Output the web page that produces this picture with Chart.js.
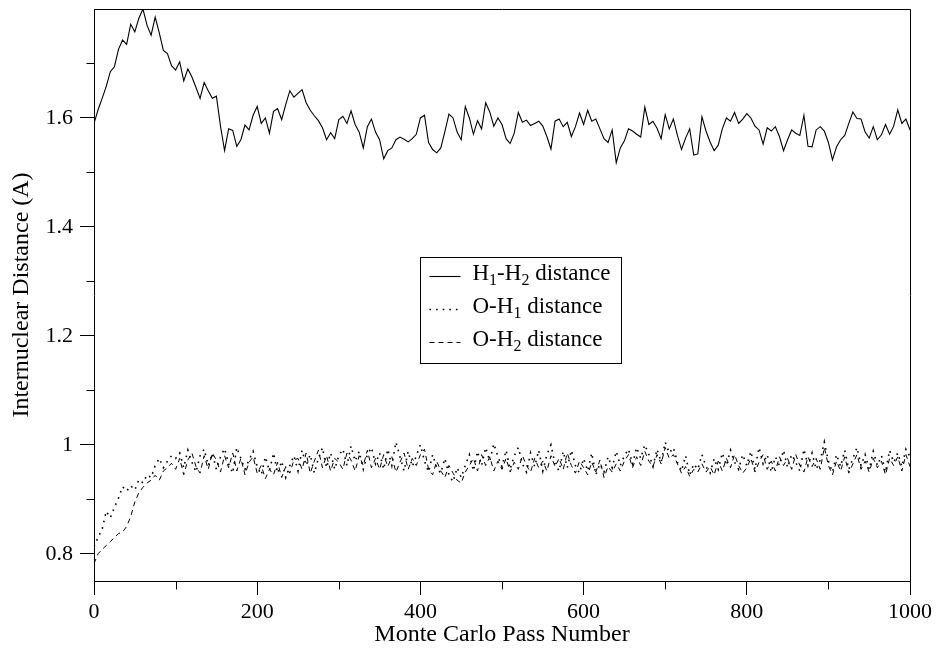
<!doctype html>
<html>

<head>
    <meta charset="UTF-8">
    <script src="https://cdn.jsdelivr.net/npm/chart.js"></script>
    <style>
        html, body { margin: 0; padding: 0; background: #fff; }
        #wrap { width: 940px; height: 654px; }
    </style>
</head>

<body>
    <div id="wrap"><canvas id="mc_graph"></canvas></div>

<script>
    // one sample every 5 Monte Carlo passes, 0 .. 1000
    const h1h2 = [
        1.590, 1.615, 1.636, 1.658, 1.685, 1.694, 1.726, 1.743, 1.735, 1.772,
        1.758, 1.783, 1.800, 1.770, 1.752, 1.785, 1.756, 1.724, 1.718, 1.696,
        1.688, 1.703, 1.668, 1.690, 1.675, 1.656, 1.636, 1.665, 1.650, 1.636,
        1.640, 1.585, 1.540, 1.580, 1.577, 1.548, 1.560, 1.587, 1.578, 1.605,
        1.621, 1.590, 1.600, 1.572, 1.612, 1.617, 1.597, 1.625, 1.650, 1.638,
        1.645, 1.652, 1.628, 1.614, 1.604, 1.595, 1.582, 1.560, 1.573, 1.562,
        1.597, 1.603, 1.590, 1.613, 1.588, 1.574, 1.545, 1.584, 1.598, 1.574,
        1.560, 1.525, 1.540, 1.545, 1.560, 1.565, 1.561, 1.556, 1.562, 1.570,
        1.600, 1.605, 1.555, 1.542, 1.536, 1.545, 1.575, 1.607, 1.600, 1.574,
        1.560, 1.621, 1.600, 1.570, 1.595, 1.580, 1.628, 1.611, 1.585, 1.600,
        1.588, 1.562, 1.553, 1.572, 1.610, 1.592, 1.596, 1.586, 1.590, 1.594,
        1.585, 1.566, 1.543, 1.594, 1.598, 1.584, 1.592, 1.566, 1.584, 1.609,
        1.588, 1.614, 1.594, 1.598, 1.580, 1.562, 1.555, 1.578, 1.518, 1.545,
        1.558, 1.580, 1.576, 1.570, 1.565, 1.620, 1.588, 1.594, 1.581, 1.562,
        1.606, 1.580, 1.598, 1.568, 1.542, 1.563, 1.580, 1.532, 1.534, 1.602,
        1.576, 1.556, 1.540, 1.550, 1.580, 1.600, 1.594, 1.610, 1.590, 1.598,
        1.608, 1.600, 1.585, 1.578, 1.552, 1.582, 1.576, 1.584, 1.566, 1.540,
        1.560, 1.578, 1.572, 1.568, 1.605, 1.548, 1.547, 1.578, 1.584, 1.576,
        1.555, 1.523, 1.547, 1.560, 1.568, 1.590, 1.611, 1.599, 1.598, 1.574,
        1.563, 1.584, 1.560, 1.569, 1.588, 1.570, 1.585, 1.615, 1.590, 1.598,
        1.578
    ];

    const oh1 = [
        0.813, 0.830, 0.845, 0.878, 0.866, 0.885, 0.902, 0.923, 0.915, 0.925,
        0.917, 0.936, 0.930, 0.945, 0.940, 0.962, 0.975, 0.958, 0.970, 0.980,
        0.975, 0.985, 0.958, 0.990, 0.968, 0.950, 0.980, 0.992, 0.962, 0.984,
        0.955, 0.978, 0.993, 0.965, 0.948, 0.995, 0.975, 0.955, 0.972, 0.988,
        0.960, 0.945, 0.978, 0.952, 0.985, 0.948, 0.970, 0.940, 0.962, 0.980,
        0.952, 0.990, 0.962, 0.982, 0.948, 0.975, 0.995, 0.958, 0.985, 0.955,
        0.980, 0.992, 0.962, 0.998, 0.970, 0.988, 0.955, 0.982, 0.995, 0.965,
        0.985, 0.955, 0.992, 0.962, 1.005, 0.978, 0.952, 0.988, 0.960, 0.980,
        1.000, 0.970, 0.950, 0.982, 0.958, 0.948, 0.975, 0.945, 0.932, 0.958,
        0.940, 0.962, 0.982, 0.952, 0.988, 0.962, 0.995, 0.970, 1.002, 0.978,
        0.960, 0.990, 0.955, 0.980, 0.995, 0.965, 0.950, 0.985, 0.960, 0.990,
        0.952, 0.982, 1.000, 0.965, 0.952, 0.988, 0.958, 0.990, 0.962, 0.948,
        0.975, 0.952, 0.985, 0.945, 0.965, 0.950, 0.978, 0.958, 0.988, 0.962,
        0.980, 0.992, 0.965, 0.995, 0.975, 1.000, 0.982, 0.960, 0.992, 0.968,
        1.005, 0.985, 0.995, 0.968, 0.952, 0.980, 0.945, 0.965, 0.955, 0.982,
        0.960, 0.948, 0.975, 0.955, 0.985, 0.962, 0.990, 0.968, 0.955, 0.982,
        0.962, 0.988, 0.955, 0.995, 0.965, 0.982, 0.950, 0.978, 0.962, 0.990,
        0.958, 0.982, 0.968, 0.952, 0.992, 0.962, 0.985, 0.955, 0.972, 1.005,
        0.970, 0.950, 0.982, 0.960, 0.990, 0.955, 0.975, 0.995, 0.962, 0.982,
        0.955, 0.988, 0.962, 0.980, 0.950, 0.990, 0.968, 0.985, 0.960, 0.992,
        0.978
    ];

    const oh2 = [
        0.782, 0.800, 0.808, 0.815, 0.822, 0.830, 0.837, 0.840, 0.850, 0.868,
        0.895, 0.912, 0.922, 0.930, 0.935, 0.944, 0.935, 0.952, 0.958, 0.966,
        0.955, 0.975, 0.945, 0.972, 0.985, 0.960, 0.948, 0.980, 0.955, 0.985,
        0.972, 0.950, 0.980, 0.958, 0.985, 0.952, 0.975, 0.945, 0.968, 0.978,
        0.948, 0.962, 0.938, 0.955, 0.945, 0.968, 0.940, 0.960, 0.948, 0.972,
        0.975, 0.955, 0.985, 0.948, 0.970, 0.990, 0.958, 0.980, 0.952, 0.975,
        0.968, 0.955, 0.985, 0.972, 0.952, 0.980, 0.962, 0.990, 0.958, 0.975,
        0.955, 0.982, 0.960, 0.978, 0.950, 0.968, 0.985, 0.955, 0.975, 0.962,
        0.982, 0.992, 0.955, 0.945, 0.970, 0.952, 0.940, 0.962, 0.948, 0.935,
        0.930, 0.950, 0.962, 0.975, 0.952, 0.982, 0.962, 0.978, 0.952, 0.970,
        0.955, 0.975, 0.950, 0.968, 0.955, 0.980, 0.962, 0.950, 0.975, 0.958,
        0.970, 0.952, 0.980, 0.960, 0.975, 0.955, 0.985, 0.962, 0.948, 0.970,
        0.958, 0.945, 0.968, 0.950, 0.972, 0.940, 0.960, 0.950, 0.965, 0.952,
        0.970, 0.982, 0.958, 0.978, 0.962, 0.988, 0.970, 0.960, 0.982, 0.965,
        0.995, 0.975, 0.982, 0.965, 0.948, 0.960, 0.942, 0.955, 0.950, 0.965,
        0.950, 0.960, 0.945, 0.970, 0.952, 0.975, 0.958, 0.982, 0.962, 0.948,
        0.958, 0.975, 0.950, 0.968, 0.982, 0.955, 0.970, 0.952, 0.978, 0.962,
        0.975, 0.955, 0.982, 0.962, 0.950, 0.978, 0.960, 0.975, 0.955, 0.995,
        0.962, 0.945, 0.970, 0.952, 0.978, 0.948, 0.965, 0.982, 0.955, 0.970,
        0.950, 0.975, 0.958, 0.970, 0.945, 0.975, 0.962, 0.978, 0.952, 0.982,
        0.960
    ];

    const passNumbers = h1h2.map((_, i) => i * 5);

    const xMajor = [0, 200, 400, 600, 800, 1000];
    const xMinor = [100, 300, 500, 700, 900];
    const yMajor = [0.8, 1, 1.2, 1.4, 1.6];
    const yMinor = [0.9, 1.1, 1.3, 1.5, 1.7];

    const seriesNames = [
        [['H', 0], ['1', 1], ['-H', 0], ['2', 1], [' distance', 0]],
        [['O-H', 0], ['1', 1], [' distance', 0]],
        [['O-H', 0], ['2', 1], [' distance', 0]]
    ];

    const SERIF = "'Liberation Serif', 'DejaVu Serif', serif";
    const dotDash = [1.6, 5];
    const longDash = [5, 4];

    // frame on top/right, minor ticks and the boxed legend in the middle
    const framePlugin = {
        id: 'frame',
        afterDraw(chart) {
            const ctx = chart.ctx;
            const a = chart.chartArea;
            const x = chart.scales.x, y = chart.scales.y;
            const r = v => Math.round(v) + 0.5;
            ctx.save();
            ctx.strokeStyle = '#000';
            ctx.lineWidth = 1;
            ctx.setLineDash([]);
            ctx.beginPath();
            ctx.moveTo(r(a.left), r(a.top));
            ctx.lineTo(r(a.right), r(a.top));
            ctx.lineTo(r(a.right), r(a.bottom));
            xMinor.forEach(v => {
                const px = r(x.getPixelForValue(v));
                ctx.moveTo(px, r(a.bottom));
                ctx.lineTo(px, r(a.bottom) + 8);
            });
            yMinor.forEach(v => {
                const py = r(y.getPixelForValue(v));
                ctx.moveTo(r(a.left), py);
                ctx.lineTo(r(a.left) - 8, py);
            });
            ctx.stroke();

            // legend box
            const lx = r(a.left + 0.40 * (a.right - a.left));
            const ly = r(a.top + 0.433 * (a.bottom - a.top));
            const lw = 201, lh = 106;
            ctx.fillStyle = '#fff';
            ctx.fillRect(lx, ly, lw, lh);
            ctx.strokeRect(lx, ly, lw, lh);

            chart.data.datasets.forEach((ds, i) => {
                const cy = ly + 16 + i * 33;
                ctx.setLineDash(ds.borderDash || []);
                ctx.lineWidth = ds.borderWidth;
                ctx.beginPath();
                ctx.moveTo(lx + 9, r(cy + 2));
                ctx.lineTo(lx + 40, r(cy + 2));
                ctx.stroke();
                ctx.setLineDash([]);

                let tx = lx + 52;
                ctx.fillStyle = '#000';
                ctx.textBaseline = 'middle';
                ctx.textAlign = 'left';
                seriesNames[i].forEach(([txt, sub]) => {
                    ctx.font = (sub ? '16px ' : '23px ') + SERIF;
                    ctx.fillText(txt, tx, sub ? cy + 7 : cy);
                    tx += ctx.measureText(txt).width;
                });
            });
            ctx.restore();
        }
    };

    const mc_graph = document.getElementById('mc_graph');

    new Chart(mc_graph, {
        type: 'line',
        data: {
            labels: passNumbers,
            datasets: [
                { label: 'H1-H2 distance', data: h1h2, borderColor: '#000', borderWidth: 1.1, pointRadius: 0, borderDash: [] },
                { label: 'O-H1 distance', data: oh1, borderColor: '#000', borderWidth: 1.6, pointRadius: 0, borderDash: dotDash },
                { label: 'O-H2 distance', data: oh2, borderColor: '#000', borderWidth: 1, pointRadius: 0, borderDash: longDash }
            ]
        },
        options: {
            responsive: true,
            maintainAspectRatio: false,
            animation: false,
            layout: { padding: { left: 0, top: 9, right: 30, bottom: 0 } },
            plugins: {
                legend: { display: false },
                tooltip: { enabled: false }
            },
            scales: {
                x: {
                    type: 'linear',
                    min: 0,
                    max: 1000,
                    afterBuildTicks: s => { s.ticks = xMajor.map(v => ({ value: v })); },
                    afterFit: s => { s.height = 73; s.paddingLeft = 0; s.paddingRight = 0; },
                    ticks: {
                        color: '#000',
                        padding: 4,
                        maxRotation: 0,
                        font: { family: SERIF, size: 22 },
                        callback: v => String(v)
                    },
                    grid: { drawOnChartArea: false, color: '#000', tickLength: 14 },
                    border: { color: '#000', width: 1 },
                    title: {
                        display: true,
                        text: 'Monte Carlo Pass Number',
                        color: '#000',
                        font: { family: SERIF, size: 24 },
                        padding: { top: 0, bottom: 5 }
                    }
                },
                y: {
                    min: 0.75,
                    max: 1.8,
                    afterBuildTicks: s => { s.ticks = yMajor.map(v => ({ value: v })); },
                    afterFit: s => { s.width = 94; s.paddingTop = 0; s.paddingBottom = 0; },
                    ticks: {
                        color: '#000',
                        padding: 7,
                        font: { family: SERIF, size: 22 },
                        callback: v => String(+v.toFixed(1))
                    },
                    grid: { drawOnChartArea: false, color: '#000', tickLength: 14 },
                    border: { color: '#000', width: 1 },
                    title: {
                        display: true,
                        text: 'Internuclear Distance (A)',
                        color: '#000',
                        font: { family: SERIF, size: 24 },
                        padding: { top: 7, bottom: 0 }
                    }
                }
            }
        },
        plugins: [framePlugin]
    });
</script>
</body>
</html>
